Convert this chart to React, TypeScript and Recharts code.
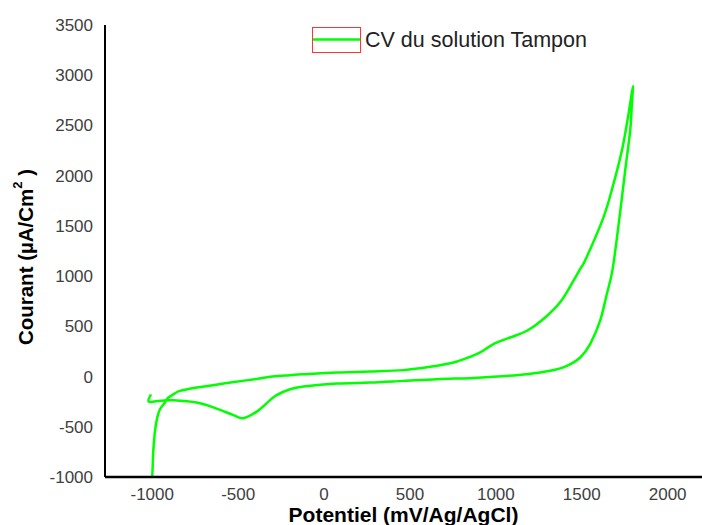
import React from 'react';
import { LineChart, Line, XAxis, YAxis, Legend } from 'recharts';

// Anodic (forward) scan: potential (mV) and current (µA/cm²)
const forwardPotential = [-1000, -997, -994, -984, -971, -955, -926, -907, -875, -839, -741, -586, -431, -300, -200, -120, 74, 268, 462, 617, 753, 850, 909, 986, 1083, 1181, 1277, 1374, 1452, 1491, 1525, 1627, 1685, 1734, 1763, 1782, 1798];
const forwardCurrent = [-1000, -870, -742, -542, -409, -325, -259, -210, -175, -143, -110, -70, -33, 0, 13, 22, 40, 50, 64, 97, 140, 197, 240, 323, 389, 456, 573, 739, 955, 1072, 1175, 1587, 1920, 2253, 2519, 2719, 2891];

// Cathodic (reverse) scan
const reversePotential = [1792, 1782, 1753, 1720, 1680, 1646, 1607, 1549, 1491, 1413, 1316, 1181, 986, 850, 656, 462, 268, 74, -120, -198, -276, -314, -392, -470, -530, -625, -741, -879, -950, -1020, -1008];
const reverseCurrent = [2719, 2452, 2053, 1587, 1072, 822, 556, 323, 190, 107, 57, 24, -3, -16, -26, -43, -60, -70, -100, -126, -185, -235, -349, -415, -382, -319, -259, -236, -240, -250, -178];

const xTicks = [-1000, -500, 0, 500, 1000, 1500, 2000];
const yTicks = [-1000, -500, 0, 500, 1000, 1500, 2000, 2500, 3000, 3500];
const seriesName = 'CV du solution Tampon';
const xTitle = 'Potentiel (mV/Ag/AgCl)';

const data = [
  ...forwardPotential.map((p, i) => ({ potential: p, current: forwardCurrent[i] })),
  ...reversePotential.map((p, i) => ({ potential: p, current: reverseCurrent[i] })),
];

const FONT = '"Liberation Sans", Arial, sans-serif';

// Catmull-Rom curve factory (passes through every point, works for non-monotone x)
function catmullRom(context: any) {
  let pts: [number, number][] = [];
  return {
    areaStart() {},
    areaEnd() {},
    lineStart() {
      pts = [];
    },
    lineEnd() {
      const n = pts.length;
      if (n === 0) return;
      context.moveTo(pts[0][0], pts[0][1]);
      for (let i = 0; i < n - 1; i++) {
        const p0 = pts[Math.max(i - 1, 0)];
        const p1 = pts[i];
        const p2 = pts[i + 1];
        const p3 = pts[Math.min(i + 2, n - 1)];
        context.bezierCurveTo(
          p1[0] + (p2[0] - p0[0]) / 6,
          p1[1] + (p2[1] - p0[1]) / 6,
          p2[0] - (p3[0] - p1[0]) / 6,
          p2[1] - (p3[1] - p1[1]) / 6,
          p2[0],
          p2[1]
        );
      }
    },
    point(x: number, y: number) {
      pts.push([+x, +y]);
    },
  };
}

function LegendContent() {
  return (
    <div style={{ display: 'flex', alignItems: 'center', fontFamily: FONT, fontSize: 21.5, color: '#222', whiteSpace: 'nowrap' }}>
      <svg width={49} height={26} style={{ display: 'block' }}>
        <rect x={0.5} y={0.5} width={48} height={25} fill="none" stroke="#ff3333" strokeWidth={1} />
        <line x1={1} x2={48} y1={12.5} y2={12.5} stroke="#00ff00" strokeWidth={2.5} />
      </svg>
      <span style={{ marginLeft: 4 }}>{seriesName}</span>
    </div>
  );
}

function YTitle(props: any) {
  const vb = props.viewBox || { x: 0, y: 25, width: 105, height: 452 };
  const cx = vb.x + 25;
  const cy = vb.y + vb.height / 2 + 6;
  return (
    <text
      x={cx}
      y={cy}
      transform={`rotate(-90, ${cx}, ${cy})`}
      textAnchor="middle"
      dominantBaseline="central"
      fontFamily={FONT}
      fontSize={20.5}
      fontWeight="bold"
      fill="#000"
    >
      Courant (µA/Cm<tspan dy={-8} fontSize={13}>2</tspan>
      <tspan dy={8}> )</tspan>
    </text>
  );
}

export default function App() {
  return (
    <div style={{ position: 'absolute', left: 0, top: 0, width: 702, height: 525, background: '#fff' }}>
      <LineChart width={702} height={525} data={data} margin={{ top: 25, right: 0, bottom: 0, left: 0 }}>
        <XAxis
          dataKey="potential"
          type="number"
          domain={[-1275, 2200]}
          ticks={xTicks}
          allowDataOverflow
          tickLine={false}
          tickSize={0}
          tickMargin={11}
          height={48}
          axisLine={{ stroke: '#000', strokeWidth: 2.5 }}
          tick={{ fill: '#404040', fontSize: 17, fontFamily: FONT }}
          label={{ value: xTitle, position: 'insideBottom', offset: 3, fill: '#000', fontSize: 21, fontWeight: 'bold', fontFamily: FONT }}
        />
        <YAxis
          type="number"
          domain={[-1000, 3500]}
          ticks={yTicks}
          allowDataOverflow
          width={105}
          tickLine={false}
          tickSize={0}
          tickMargin={12}
          axisLine={{ stroke: '#000', strokeWidth: 2 }}
          tick={{ fill: '#404040', fontSize: 17, fontFamily: FONT }}
          label={<YTitle />}
        />
        <Legend
          verticalAlign="middle"
          align="center"
          layout="horizontal"
          wrapperStyle={{ left: 312, top: 27, width: 'auto', height: 'auto' }}
          content={LegendContent}
        />
        <Line
          type={catmullRom as any}
          dataKey="current"
          name={seriesName}
          stroke="#00ff00"
          strokeWidth={2.5}
          dot={false}
          activeDot={false}
          isAnimationActive={false}
        />
      </LineChart>
    </div>
  );
}
